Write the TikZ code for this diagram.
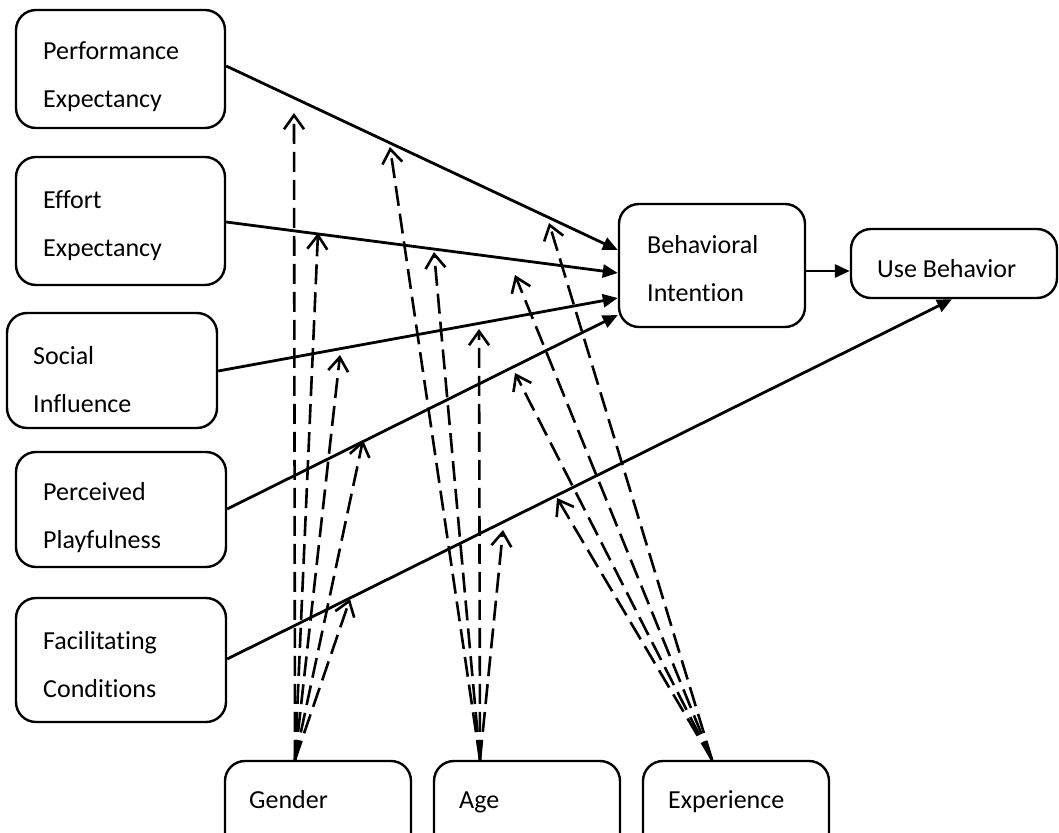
\documentclass[tikz,border=0pt]{standalone}
\usepackage{fontspec}
\setmainfont{Carlito}[Ligatures={NoCommon}]
\usetikzlibrary{arrows.meta}
\tikzset{
  box/.style={draw, line width=2.4pt, rounded corners=20pt, inner sep=0pt},
  lbl/.style={anchor=base west, inner sep=0pt, font=\fontsize{26}{31}\selectfont},
  solidarrow/.style={line width=2.8pt, -{Triangle[length=15pt,width=13pt]}},
  modarrow/.style={line width=2.6pt, dash pattern=on 20pt off 8pt, -{Straight Barb[length=14pt,width=20pt]}}
}
\begin{document}
\begin{tikzpicture}[x=1pt, y=-1pt]
\clip (0,0) rectangle (1059,832);
\fill[white] (0,0) rectangle (1059,832);
% boxes
\node[box, minimum width=209pt, minimum height=118pt] (pe) at (120.5,69) {};
\node[box, minimum width=209pt, minimum height=128pt] (ee) at (120.5,221) {};
\node[box, minimum width=210pt, minimum height=115pt] (si) at (112,370.5) {};
\node[box, minimum width=210pt, minimum height=115pt] (pp) at (121,509.5) {};
\node[box, minimum width=210pt, minimum height=124pt] (fc) at (121,660) {};
\node[box, minimum width=186pt, minimum height=123pt] (bi) at (712,265.5) {};
\node[box, minimum width=206pt, minimum height=69pt] (ub) at (954,263.5) {};
\node[box, minimum width=186pt, minimum height=95pt] (gen) at (318,808.5) {};
\node[box, minimum width=186pt, minimum height=95pt] (age) at (527,808.5) {};
\node[box, minimum width=186pt, minimum height=95pt] (exp) at (736,808.5) {};
% labels
\node[lbl] (pe1) at (43,60) {Performance};
\node[lbl] (pe2) at (43,108) {Expectancy};
\node[lbl] (ee1) at (43,208) {Effort};
\node[lbl] (ee2) at (43,256) {Expectancy};
\node[lbl] (si1) at (33,364) {Social};
\node[lbl] (si2) at (33,412) {Influence};
\node[lbl] (pp1) at (43,500) {Perceived};
\node[lbl] (pp2) at (43,548) {Playfulness};
\node[lbl] (fc1) at (43,649) {Facilitating};
\node[lbl] (fc2) at (43,697) {Conditions};
\node[lbl] (bi1) at (647,253) {Behavioral};
\node[lbl] (bi2) at (647,301) {Intention};
\node[lbl] (ub1) at (877,277) {Use Behavior};
\node[lbl] (gen1) at (249,808) {Gender};
\node[lbl] (age1) at (459,808) {Age};
\node[lbl] (exp1) at (668,808) {Experience};
% solid connectors
\draw[solidarrow] (pe.east |- 0,66) -- (bi.west |- 0,250);
\draw[solidarrow] (ee.east |- 0,222) -- (bi.west |- 0,273);
\draw[solidarrow] (si.east |- 0,371) -- (bi.west |- 0,298);
\draw[solidarrow] (pp.east |- 0,509) -- (bi.west |- 0,315);
\draw[solidarrow] (fc.east |- 0,659) -- (ub.south -| 952,0);
\draw[solidarrow] (bi.east |- 0,271) -- (ub.west |- 0,271);
% moderator tips
\coordinate (g1) at (294,113);
\coordinate (g2) at (318,233);
\coordinate (g3) at (340,355);
\coordinate (g4) at (363,440);
\coordinate (g5) at (350,599);
\coordinate (a1) at (390,147);
\coordinate (a2) at (434,252);
\coordinate (a3) at (479,329);
\coordinate (a4) at (503,530);
\coordinate (e1) at (549,223);
\coordinate (e2) at (515,275);
\coordinate (e3) at (515,373);
\coordinate (e4) at (557,498);
% dashed moderator connectors
\foreach \t in {g1,g2,g3,g4,g5} \draw[modarrow] (gen.north -| 295,0) -- (\t);
\foreach \t in {a1,a2,a3,a4} \draw[modarrow] (age.north -| 480,0) -- (\t);
\foreach \t in {e1,e2,e3,e4} \draw[modarrow] (exp.north -| 712,0) -- (\t);
\end{tikzpicture}
\end{document}
